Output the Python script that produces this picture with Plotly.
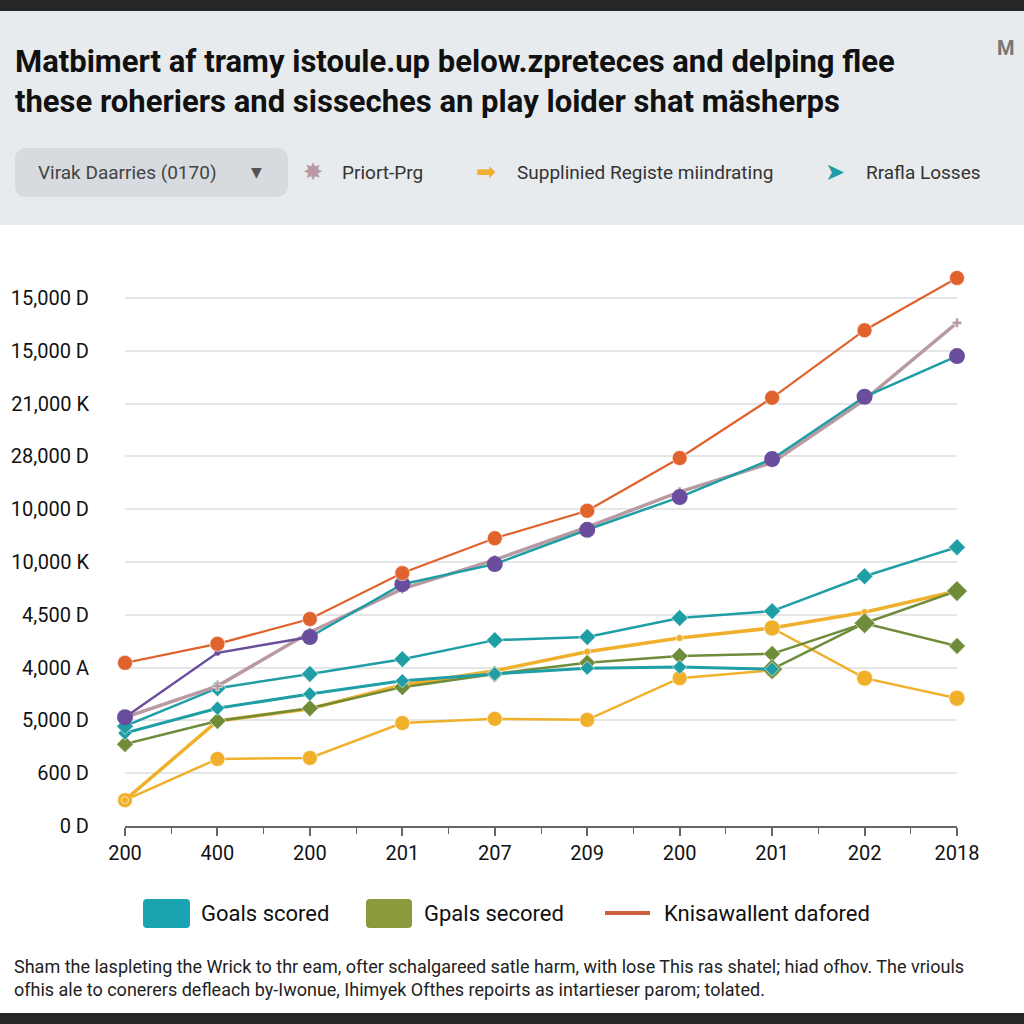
import plotly.graph_objects as go

# ---------------- data ----------------
x_idx = [0, 1, 2, 3, 4, 5, 6, 7, 8, 9]
x_labels = ["200", "400", "200", "201", "207", "209", "200", "201", "202", "2018"]
y_idx = [0, 1, 2, 3, 4, 5, 6, 7, 8, 9, 10]
y_labels = ["0 D", "600 D", "5,000 D", "4,000 A", "4,500 D", "10,000 K",
            "10,000 D", "28,000 D", "21,000 K", "15,000 D", "15,000 D"]

orange_vals = [3.09, 3.45, 3.92, 4.79, 5.45, 5.97, 6.97, 8.11, 9.39, 10.38]
mauve_vals = [2.06, 2.65, 3.67, 4.49, 5.04, 5.66, 6.33, 6.88, 8.07, 9.53]
purple_vals = [2.06, 3.28, 3.58, 4.58, 4.96, 5.61, 6.23, 6.95, 8.13, 8.90]
teal_top_vals = [1.89, 2.61, 2.88, 3.16, 3.52, 3.58, 3.94, 4.07, 4.73, 5.28]
teal_low_vals = [1.76, 2.23, 2.50, 2.75, 2.88, 2.99, 3.01, 2.97]
green_vals = [1.55, 1.99, 2.23, 2.63, 2.88, 3.09, 3.22, 3.26, 3.84, 3.41]
green_end_vals = [2.97, 3.84, 4.45]
yellow_top_vals = [0.49, 1.99, 2.22, 2.67, 2.94, 3.30, 3.56, 3.75, 4.05, 4.45]
yellow_cross_vals = [3.75, 2.80, 2.42]
yellow_low_vals = [0.49, 1.27, 1.29, 1.95, 2.03, 2.01, 2.80, 2.95]

title_text = ("Matbimert af tramy istoule.up below.zpreteces and delping flee<br>"
              "these roheriers and sisseches an play loider shat mäsherps")
dropdown_text = "Virak Daarries (0170)"
top_legend = ["Priort-Prg", "Supplinied Registe miindrating", "Rrafla Losses"]
bottom_legend = ["Goals scored", "Gpals secored", "Knisawallent dafored"]
footnote = ("Sham the laspleting the Wrick to thr eam, ofter schalgareed satle harm, with lose This ras shatel; hiad ofhov. The vriouls<br>"
            "ofhis ale to conerers defleach by-Iwonue, Ihimyek Ofthes repoirts as intartieser parom; tolated.")

ORANGE = "#e0622c"
MAUVE = "#b99aa2"
PURPLE = "#6a4e9d"
TEAL = "#1f9ea6"
GREEN = "#6f8c3a"
YELLOW = "#f0b02c"

FONT = "Roboto, Liberation Sans, sans-serif"
W = H = 1024


def px(x):
    return x / W


def py(y):
    return (H - y) / H


fig = go.Figure()


def add(xs, ys, color, width, symbol, size, name):
    fig.add_trace(go.Scatter(
        x=xs, y=ys, mode="lines+markers", name=name,
        line=dict(color=color, width=width),
        marker=dict(color=color, symbol=symbol, size=size, opacity=1,
                    line=dict(color="rgba(255,255,255,0.6)", width=1)),
        cliponaxis=False, showlegend=False))


add(x_idx[:len(yellow_low_vals)], yellow_low_vals, YELLOW, 2.5, "circle", 15, "yellow low")
add(x_idx, yellow_top_vals, YELLOW, 3.5, "circle", 7, "yellow top")
add(x_idx[7:], yellow_cross_vals, YELLOW, 2.5, "circle", 16, "yellow cross")
add(x_idx, green_vals, GREEN, 2.5, "diamond", 13, "green")
add(x_idx[7:], green_end_vals, GREEN, 2.5, "diamond", 16, "green end")
add(x_idx[:len(teal_low_vals)], teal_low_vals, TEAL, 3, "diamond", 11, "teal low")
add(x_idx, teal_top_vals, TEAL, 2.5, "diamond", 13, "teal top")
add(x_idx, mauve_vals, MAUVE, 3.5, "cross", 8, "mauve")
# purple series: purple line at start, teal line later, purple markers
fig.add_trace(go.Scatter(x=x_idx[:3], y=purple_vals[:3], mode="lines",
                         line=dict(color=PURPLE, width=2.5), showlegend=False, cliponaxis=False))
fig.add_trace(go.Scatter(x=x_idx[2:], y=purple_vals[2:], mode="lines",
                         line=dict(color=TEAL, width=2.5), showlegend=False, cliponaxis=False))
fig.add_trace(go.Scatter(x=x_idx, y=purple_vals, mode="markers",
                         marker=dict(color=PURPLE, size=[16, 6, 16, 16, 16, 16, 16, 16, 16, 16],
                                     opacity=1, line=dict(width=0)),
                         showlegend=False, cliponaxis=False))
add(x_idx, orange_vals, ORANGE, 2.2, "circle", 15, "orange")

shapes = []
annotations = []

# header background & dark bars
shapes.append(dict(type="rect", xref="paper", yref="paper", x0=0, x1=1, y0=py(225), y1=py(11),
                   fillcolor="#e8ebee", line_width=0, layer="below"))
shapes.append(dict(type="rect", xref="paper", yref="paper", x0=0, x1=1, y0=py(11), y1=1,
                   fillcolor="#262626", line_width=0, layer="above"))
shapes.append(dict(type="rect", xref="paper", yref="paper", x0=0, x1=1, y0=0, y1=py(1013),
                   fillcolor="#262626", line_width=0, layer="above"))


def rrect(x0, y0, x1, y1, r, color):
    X0, X1 = px(x0), px(x1)
    Y0, Y1 = py(y1), py(y0)
    rx, ry = r / W, r / H
    path = (f"M {X0+rx},{Y0} L {X1-rx},{Y0} Q {X1},{Y0} {X1},{Y0+ry} "
            f"L {X1},{Y1-ry} Q {X1},{Y1} {X1-rx},{Y1} L {X0+rx},{Y1} "
            f"Q {X0},{Y1} {X0},{Y1-ry} L {X0},{Y0+ry} Q {X0},{Y0} {X0+rx},{Y0} Z")
    return dict(type="path", xref="paper", yref="paper", path=path,
                fillcolor=color, line_width=0, layer="below")


# dropdown
shapes.append(rrect(15, 148, 288, 197, 12, "#d7dbdf"))
annotations.append(dict(x=px(36), y=py(172), xref="paper", yref="paper", xanchor="left",
                        yanchor="middle", text=dropdown_text, showarrow=False,
                        font=dict(family=FONT, size=19, color="#444444")))
annotations.append(dict(x=px(256), y=py(172), xref="paper", yref="paper", xanchor="center",
                        yanchor="middle", text="▼", showarrow=False,
                        font=dict(family="DejaVu Sans", size=14, color="#555555")))

# title
annotations.append(dict(x=px(13), y=py(81), xref="paper", yref="paper", xanchor="left",
                        yanchor="middle", align="left", text="<b>" + title_text + "</b>",
                        showarrow=False,
                        font=dict(family=FONT, size=31, color="#111111")))
annotations.append(dict(x=px(1006), y=py(48), xref="paper", yref="paper", xanchor="center",
                        yanchor="middle", text="<b>M</b>", showarrow=False,
                        font=dict(family=FONT, size=20, color="#777777")))

# top legend
tl = [(313, "✸", MAUVE, 340, top_legend[0]),
      (486, "➡", YELLOW, 515, top_legend[1]),
      (835, "➤", TEAL, 864, top_legend[2])]
for mx, sym, col, tx, txt in tl:
    annotations.append(dict(x=px(mx), y=py(172), xref="paper", yref="paper", xanchor="center",
                            yanchor="middle", text=sym, showarrow=False,
                            font=dict(family="DejaVu Sans", size=24, color=col)))
    annotations.append(dict(x=px(tx), y=py(172), xref="paper", yref="paper", xanchor="left",
                            yanchor="middle", text=txt, showarrow=False,
                            font=dict(family=FONT, size=19, color="#333333")))

# bottom legend
shapes.append(rrect(143, 899, 190, 928, 4, "#1aa3b0"))
shapes.append(rrect(366, 899, 412, 928, 4, "#8a9a3c"))
shapes.append(dict(type="line", xref="paper", yref="paper", x0=px(605), x1=px(650),
                   y0=py(913), y1=py(913), line=dict(color="#cc5f40", width=4)))
for tx, txt in [(199, bottom_legend[0]), (422, bottom_legend[1]), (662, bottom_legend[2])]:
    annotations.append(dict(x=px(tx), y=py(913), xref="paper", yref="paper", xanchor="left",
                            yanchor="middle", text=txt, showarrow=False,
                            font=dict(family=FONT, size=22, color="#111111")))

# footnote
annotations.append(dict(x=px(12), y=py(978), xref="paper", yref="paper", xanchor="left",
                        yanchor="middle", align="left", text=footnote, showarrow=False,
                        font=dict(family=FONT, size=18, color="#222222")))

ymax = 10.6
y_bottom_px = 826
unit_px = 52.8

fig.update_layout(
    width=W, height=H, autosize=False,
    margin=dict(l=0, r=0, t=0, b=0, pad=0),
    paper_bgcolor="white", plot_bgcolor="white",
    shapes=shapes, annotations=annotations,
    xaxis=dict(range=[0, 9], domain=[px(125), px(957)], tickmode="array", automargin=False,
               tickvals=x_idx, ticktext=x_labels, showgrid=False, zeroline=False,
               showline=True, linecolor="#666666", linewidth=1.5,
               ticks="outside", ticklen=8, tickcolor="#666666", tickwidth=1.5,
               minor=dict(tickvals=[i + 0.5 for i in x_idx[:-1]], ticks="outside",
                          ticklen=6, tickcolor="#666666", tickwidth=1.2),
               tickfont=dict(family=FONT, size=20, color="#111111")),
    yaxis=dict(range=[0, ymax], automargin=False,
               domain=[(H - y_bottom_px) / H, (H - y_bottom_px + ymax * unit_px) / H],
               tickmode="array", tickvals=y_idx, ticktext=y_labels,
               showgrid=True, gridcolor="#e4e6e8", gridwidth=1.5, zeroline=False,
               showline=False, ticks="", ticklabelstandoff=35,
               tickfont=dict(family=FONT, size=20, color="#111111")),
)

fig.write_html(
    "out.html",
    config={"displayModeBar": False},
    post_script="document.body.style.margin='0';document.body.style.overflow='hidden';",
)
